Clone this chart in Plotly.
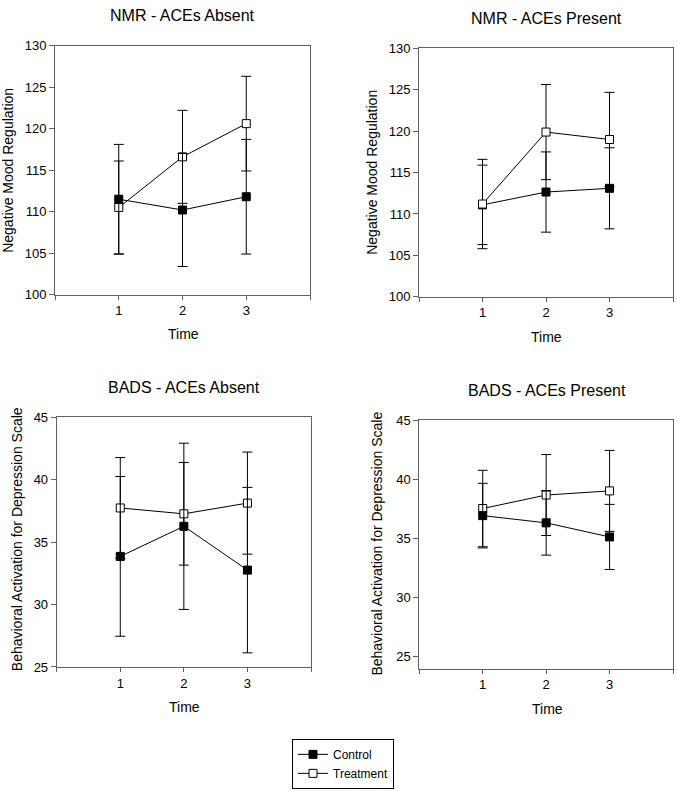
import plotly.graph_objects as go

# ---------------- data ----------------
time_points = [1, 2, 3]
x_tick_vals = [0, 1, 2, 3, 4]
x_tick_text = ["", "1", "2", "3", ""]

panel_titles = ["NMR - ACEs Absent", "NMR - ACEs Present",
                "BADS - ACEs Absent", "BADS - ACEs Present"]
y_titles = ["Negative Mood Regulation", "Negative Mood Regulation",
            "Behavioral Activation for Depression Scale",
            "Behavioral Activation for Depression Scale"]

nmr_absent_control = [111.5, 110.2, 111.8]
nmr_absent_control_err = [6.6, 6.8, 6.9]
nmr_absent_treatment = [110.5, 116.6, 120.6]
nmr_absent_treatment_err = [5.6, 5.6, 5.7]

nmr_present_control = [111.1, 112.65, 113.1]
nmr_present_control_err = [4.8, 4.85, 4.9]
nmr_present_treatment = [111.2, 119.9, 119.0]
nmr_present_treatment_err = [5.4, 5.75, 5.7]

bads_absent_control = [33.86, 36.27, 32.76]
bads_absent_control_err = [6.4, 6.66, 6.63]
bads_absent_treatment = [37.74, 37.27, 38.13]
bads_absent_treatment_err = [4.04, 4.11, 4.09]

bads_present_control = [36.92, 36.31, 35.12]
bads_present_control_err = [2.73, 2.73, 2.75]
bads_present_treatment = [37.52, 38.66, 39.01]
bads_present_treatment_err = [3.23, 3.42, 3.42]

nmr_ticks = [100, 105, 110, 115, 120, 125, 130]
bads_ticks = [25, 30, 35, 40, 45]

# ---------------- layout geometry ----------------
W, H = 677, 791
FONT = "Arial, Liberation Sans, sans-serif"
FRAME = "#606060"

panels = [
    dict(ctrl=nmr_absent_control, ctrl_err=nmr_absent_control_err,
         trt=nmr_absent_treatment, trt_err=nmr_absent_treatment_err,
         yrange=[100, 130], ticks=nmr_ticks, box=(55, 310, 39.3, 293.3),
         title_xy=(182.5, 9), ytitle_xy=(8.5, 166.5), xtitle_xy=(183.5, 333),
         ctrl_on_top=True),
    dict(ctrl=nmr_present_control, ctrl_err=nmr_present_control_err,
         trt=nmr_present_treatment, trt_err=nmr_present_treatment_err,
         yrange=[100, 130], ticks=nmr_ticks, box=(419, 673, 42.3, 295.3),
         title_xy=(546, 12), ytitle_xy=(372, 169), xtitle_xy=(546.5, 336),
         ctrl_on_top=False),
    dict(ctrl=bads_absent_control, ctrl_err=bads_absent_control_err,
         trt=bads_absent_treatment, trt_err=bads_absent_treatment_err,
         yrange=[25, 45], ticks=bads_ticks, box=(56.7, 311, 418.3, 672.7),
         title_xy=(184, 388), ytitle_xy=(16.5, 543), xtitle_xy=(184, 714),
         ctrl_on_top=True),
    dict(ctrl=bads_present_control, ctrl_err=bads_present_control_err,
         trt=bads_present_treatment, trt_err=bads_present_treatment_err,
         yrange=[24, 45], ticks=bads_ticks, box=(419.3, 673, 421, 674.3),
         title_xy=(546.5, 391), ytitle_xy=(377.5, 547.5), xtitle_xy=(547, 716),
         ctrl_on_top=True),
]

fig = go.Figure()
annotations = []
layout_axes = {}

for i, p in enumerate(panels):
    n = i + 1
    xa = "x" if n == 1 else f"x{n}"
    ya = "y" if n == 1 else f"y{n}"
    show_leg = (i == 0)

    def ctrl_trace():
        return go.Scatter(
            x=time_points, y=p["ctrl"], name="Control", legendrank=1,
            mode="lines+markers", showlegend=show_leg,
            line=dict(color="black", width=1),
            marker=dict(symbol="square", size=8, color="black",
                        line=dict(color="black", width=1)),
            error_y=dict(type="data", array=p["ctrl_err"], symmetric=True,
                         color="black", thickness=1, width=5),
            xaxis=xa, yaxis=ya)

    def trt_trace():
        return go.Scatter(
            x=time_points, y=p["trt"], name="Treatment", legendrank=2,
            mode="lines+markers", showlegend=show_leg,
            line=dict(color="black", width=1),
            marker=dict(symbol="square", size=8, color="white",
                        line=dict(color="black", width=1)),
            error_y=dict(type="data", array=p["trt_err"], symmetric=True,
                         color="black", thickness=1, width=5),
            xaxis=xa, yaxis=ya)

    if p["ctrl_on_top"]:
        fig.add_trace(trt_trace())
        fig.add_trace(ctrl_trace())
    else:
        fig.add_trace(ctrl_trace())
        fig.add_trace(trt_trace())

    x0, x1, yt, yb = p["box"]
    xkey = "xaxis" if n == 1 else f"xaxis{n}"
    ykey = "yaxis" if n == 1 else f"yaxis{n}"
    layout_axes[xkey] = dict(
        domain=[x0 / W, x1 / W], anchor=ya, range=[0, 4],
        tickmode="array", tickvals=x_tick_vals, ticktext=x_tick_text,
        ticks="outside", ticklen=4, tickwidth=1, tickcolor=FRAME,
        showline=True, linecolor=FRAME, linewidth=1, mirror=True,
        showgrid=False, zeroline=False,
        tickfont=dict(family=FONT, size=13, color="black"))
    layout_axes[ykey] = dict(
        domain=[1 - yb / H, 1 - yt / H], anchor=xa, range=p["yrange"],
        tickmode="array", tickvals=p["ticks"],
        ticks="outside", ticklen=5, tickwidth=1, tickcolor=FRAME,
        showline=True, linecolor=FRAME, linewidth=1, mirror=True,
        showgrid=False, zeroline=False,
        tickfont=dict(family=FONT, size=13, color="black"))

    tx, ty = p["title_xy"]
    annotations.append(dict(text=panel_titles[i], x=tx / W, y=1 - ty / H,
                            xref="paper", yref="paper", showarrow=False,
                            xanchor="center", yanchor="middle",
                            font=dict(family=FONT, size=16, color="black")))
    yx, yy = p["ytitle_xy"]
    annotations.append(dict(text=y_titles[i], x=yx / W, y=1 - yy / H,
                            xref="paper", yref="paper", showarrow=False,
                            xanchor="center", yanchor="middle", textangle=-90,
                            font=dict(family=FONT, size=14, color="black")))
    xx, xy = p["xtitle_xy"]
    annotations.append(dict(text="Time", x=xx / W, y=1 - xy / H,
                            xref="paper", yref="paper", showarrow=False,
                            xanchor="center", yanchor="middle",
                            font=dict(family=FONT, size=14, color="black")))

fig.update_layout(
    width=W, height=H,
    margin=dict(l=0, r=0, t=0, b=0),
    paper_bgcolor="white", plot_bgcolor="white",
    annotations=annotations,
    showlegend=True,
    legend=dict(x=292 / W, y=1 - 746 / H, xanchor="left", yanchor="top",
                bordercolor="black", borderwidth=1, bgcolor="white",
                font=dict(family=FONT, size=12, color="black"),
                itemwidth=30, tracegroupgap=0),
    **layout_axes,
)

fig.write_html("out.html",
               config={"displayModeBar": False},
               post_script="document.body.style.margin='0px';"
                           "document.body.style.overflow='hidden';")
